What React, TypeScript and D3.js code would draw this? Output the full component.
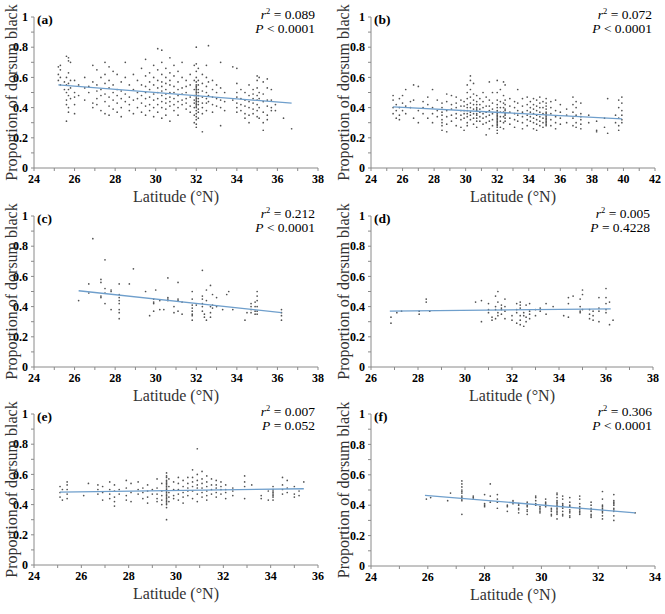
import React from 'react';
import * as d3 from 'd3';

type Site = [number, number[]];

// latitude of a sampling site, proportion of dorsum black of each animal there
const sitesA: Site[] = [
  [25.2, [0.62, 0.58, 0.67]], [25.3, [0.65, 0.55, 0.6, 0.68]], [25.5, [0.57, 0.52]],
  [25.6, [0.74, 0.6, 0.5, 0.45, 0.42, 0.31, 0.55]], [25.7, [0.73, 0.71, 0.63, 0.56, 0.52, 0.48, 0.4, 0.37]],
  [25.8, [0.7, 0.58, 0.53, 0.46]], [26.0, [0.58, 0.5, 0.42, 0.36, 0.47]], [26.2, [0.55, 0.48]],
  [26.5, [0.6, 0.53, 0.45]], [26.7, [0.54, 0.5]], [26.9, [0.68, 0.57, 0.43, 0.4]],
  [27.1, [0.65, 0.55, 0.51, 0.46, 0.42]], [27.3, [0.6, 0.52, 0.48, 0.38]],
  [27.5, [0.7, 0.62, 0.56, 0.49, 0.44, 0.36]], [27.7, [0.67, 0.58, 0.53, 0.47, 0.41, 0.35]],
  [27.9, [0.64, 0.55, 0.5, 0.45, 0.39]], [28.1, [0.62, 0.52, 0.48, 0.43, 0.37]],
  [28.3, [0.57, 0.51, 0.46, 0.4, 0.34]], [28.5, [0.7, 0.6, 0.49, 0.44]], [28.7, [0.55, 0.47, 0.42, 0.38]],
  [28.9, [0.62, 0.52, 0.45, 0.36]], [29.1, [0.58, 0.5, 0.46, 0.4]], [29.3, [0.66, 0.55, 0.48, 0.43, 0.37]],
  [29.5, [0.72, 0.61, 0.54, 0.5, 0.46, 0.41, 0.35]], [29.7, [0.63, 0.57, 0.52, 0.47, 0.42, 0.38]],
  [29.9, [0.68, 0.6, 0.55, 0.49, 0.45, 0.4, 0.34]], [30.1, [0.79, 0.65, 0.58, 0.53, 0.5, 0.46, 0.42, 0.37]],
  [30.3, [0.78, 0.7, 0.62, 0.57, 0.54, 0.51, 0.48, 0.44, 0.4, 0.33]],
  [30.5, [0.66, 0.6, 0.56, 0.52, 0.49, 0.46, 0.43, 0.39, 0.35]],
  [30.7, [0.73, 0.63, 0.58, 0.55, 0.5, 0.47, 0.44, 0.41, 0.31]],
  [30.9, [0.68, 0.61, 0.54, 0.5, 0.46, 0.42, 0.38]], [31.1, [0.64, 0.57, 0.52, 0.48, 0.44, 0.4, 0.35]],
  [31.3, [0.7, 0.6, 0.53, 0.49, 0.45, 0.42]], [31.5, [0.58, 0.54, 0.5, 0.46, 0.43, 0.39]],
  [31.7, [0.62, 0.55, 0.47, 0.41, 0.37]], [31.9, [0.68, 0.58, 0.52, 0.48, 0.45, 0.43, 0.4, 0.35, 0.3]],
  [32.0, [0.8, 0.69, 0.64, 0.6, 0.57, 0.55, 0.54, 0.53, 0.52, 0.51, 0.5, 0.49, 0.48, 0.47, 0.46, 0.45, 0.44, 0.43, 0.42, 0.41, 0.4, 0.38, 0.36, 0.34, 0.32, 0.29, 0.27]],
  [32.1, [0.66, 0.58, 0.55, 0.52, 0.5, 0.48, 0.46, 0.44, 0.42, 0.39, 0.37, 0.33]],
  [32.3, [0.62, 0.56, 0.51, 0.47, 0.43, 0.4, 0.36, 0.24]], [32.5, [0.68, 0.6, 0.54, 0.5, 0.46, 0.43, 0.38]],
  [32.6, [0.81, 0.57, 0.48, 0.44]], [32.8, [0.58, 0.52, 0.47, 0.42, 0.37]], [33.0, [0.55, 0.5, 0.46, 0.41]],
  [33.2, [0.7, 0.53, 0.45, 0.4, 0.28]], [33.4, [0.5, 0.44, 0.38]], [33.8, [0.67, 0.45]],
  [34.0, [0.66, 0.56, 0.5, 0.47, 0.43, 0.4, 0.37]], [34.2, [0.52, 0.46, 0.42, 0.38]],
  [34.4, [0.5, 0.45, 0.41, 0.36, 0.33]], [34.6, [0.55, 0.48, 0.44, 0.4, 0.35, 0.3]],
  [34.8, [0.52, 0.49, 0.46, 0.43, 0.39, 0.36]], [35.0, [0.61, 0.58, 0.53, 0.48, 0.45, 0.42, 0.38, 0.34]],
  [35.1, [0.6, 0.5, 0.46, 0.4, 0.33]], [35.3, [0.57, 0.49, 0.44, 0.37, 0.3, 0.25]],
  [35.5, [0.59, 0.53, 0.45, 0.41, 0.35, 0.32]], [35.7, [0.52, 0.45, 0.4, 0.38]], [35.9, [0.42, 0.38]],
  [36.3, [0.33]], [36.7, [0.26]],
];

const sitesB: Site[] = [
  [25.4, [0.48, 0.45, 0.4, 0.36]], [25.6, [0.42, 0.38, 0.33]], [25.8, [0.46, 0.4, 0.35, 0.32]],
  [26.0, [0.48, 0.43, 0.38]], [26.2, [0.52, 0.41, 0.36]], [26.5, [0.44, 0.4]],
  [26.7, [0.55, 0.45, 0.33]], [27.0, [0.54, 0.38, 0.3]], [27.3, [0.44, 0.4, 0.36]],
  [27.6, [0.47, 0.42, 0.33]], [27.9, [0.52, 0.4, 0.36, 0.3]], [28.2, [0.45, 0.38, 0.34]],
  [28.5, [0.43, 0.4, 0.37, 0.35, 0.32, 0.3, 0.28, 0.25]], [28.8, [0.49, 0.44, 0.38, 0.34, 0.29, 0.24]],
  [29.1, [0.48, 0.42, 0.39, 0.35, 0.31]], [29.4, [0.47, 0.43, 0.4, 0.36, 0.33, 0.28]],
  [29.7, [0.45, 0.41, 0.38, 0.35, 0.32, 0.27]], [29.9, [0.44, 0.41, 0.38, 0.36, 0.33, 0.25]],
  [30.1, [0.55, 0.5, 0.46, 0.42, 0.4, 0.38, 0.36, 0.34, 0.3, 0.28]],
  [30.3, [0.61, 0.58, 0.52, 0.47, 0.43, 0.4, 0.37, 0.35, 0.32]],
  [30.5, [0.56, 0.49, 0.45, 0.42, 0.39, 0.36, 0.33, 0.29]],
  [30.7, [0.48, 0.44, 0.42, 0.4, 0.39, 0.38, 0.36, 0.35, 0.33, 0.31, 0.27]],
  [30.9, [0.46, 0.42, 0.39, 0.37, 0.34, 0.31]], [31.1, [0.5, 0.44, 0.4, 0.36, 0.33, 0.29]],
  [31.3, [0.47, 0.41, 0.37, 0.34, 0.3, 0.22]], [31.5, [0.57, 0.45, 0.41, 0.38, 0.35, 0.31, 0.26]],
  [31.7, [0.5, 0.43, 0.39, 0.36, 0.32, 0.28]],
  [32.0, [0.58, 0.5, 0.45, 0.42, 0.4, 0.38, 0.37, 0.36, 0.35, 0.34, 0.33, 0.32, 0.31, 0.3, 0.29, 0.28, 0.27, 0.25, 0.23]],
  [32.2, [0.52, 0.44, 0.4, 0.37, 0.34, 0.31, 0.27]], [32.4, [0.57, 0.48, 0.43, 0.4, 0.37, 0.34, 0.3, 0.26]],
  [32.5, [0.55, 0.45, 0.42, 0.39, 0.38, 0.36, 0.35, 0.33, 0.31]], [32.8, [0.46, 0.41, 0.37, 0.33, 0.29]],
  [33.1, [0.44, 0.4, 0.36, 0.32, 0.27]], [33.3, [0.52, 0.43, 0.38, 0.35, 0.31]],
  [33.6, [0.46, 0.41, 0.37, 0.34, 0.3, 0.26]], [33.9, [0.47, 0.42, 0.38, 0.35, 0.32, 0.28]],
  [34.1, [0.44, 0.4, 0.37, 0.34, 0.31]], [34.3, [0.46, 0.42, 0.39, 0.36, 0.33, 0.3, 0.26]],
  [34.5, [0.45, 0.41, 0.38, 0.35, 0.32, 0.29, 0.25]], [34.7, [0.47, 0.43, 0.4, 0.37, 0.34, 0.31, 0.28]],
  [34.9, [0.44, 0.4, 0.36, 0.33, 0.3, 0.27]],
  [35.1, [0.46, 0.43, 0.41, 0.39, 0.37, 0.36, 0.35, 0.34, 0.33, 0.32, 0.31, 0.3, 0.29, 0.28]],
  [35.4, [0.44, 0.4, 0.36, 0.32, 0.28]], [35.7, [0.45, 0.38, 0.34, 0.3, 0.26]],
  [36.0, [0.42, 0.37, 0.33, 0.29]], [36.4, [0.39, 0.35, 0.3]], [36.8, [0.47, 0.42, 0.37, 0.33, 0.28]],
  [37.0, [0.44, 0.4, 0.35, 0.3, 0.27]], [37.3, [0.43, 0.36, 0.34, 0.32, 0.29, 0.26]],
  [37.8, [0.35, 0.3]], [38.3, [0.31, 0.25, 0.24]], [38.8, [0.33, 0.27]], [39.0, [0.46, 0.23]],
  [39.5, [0.35, 0.3]], [39.7, [0.45, 0.4, 0.33, 0.28, 0.25]], [39.9, [0.47, 0.43, 0.38, 0.35, 0.32, 0.3]],
];

const sitesC: Site[] = [
  [26.2, [0.44]], [26.7, [0.55, 0.49]], [26.9, [0.85]], [27.3, [0.58, 0.56, 0.47, 0.46]],
  [27.5, [0.71, 0.52, 0.49, 0.42]], [27.8, [0.51, 0.5, 0.38]],
  [28.2, [0.55, 0.48, 0.46, 0.44, 0.42, 0.38, 0.36, 0.32]], [28.7, [0.55]], [28.9, [0.65]],
  [29.5, [0.5]], [29.7, [0.34]], [29.9, [0.45, 0.43, 0.42, 0.37]], [30.0, [0.51]], [30.2, [0.44, 0.38]],
  [30.4, [0.38]], [30.6, [0.59, 0.46, 0.45, 0.44]], [30.9, [0.4, 0.36]], [31.1, [0.56, 0.45, 0.44, 0.37]],
  [31.3, [0.43, 0.35]], [31.8, [0.5, 0.45, 0.41, 0.39, 0.37, 0.35, 0.34, 0.31]], [32.0, [0.41]],
  [32.3, [0.64, 0.47, 0.45, 0.42, 0.4, 0.37]], [32.4, [0.35, 0.33]], [32.5, [0.51, 0.44, 0.31]],
  [32.7, [0.54, 0.4, 0.36, 0.33]], [32.8, [0.48, 0.41, 0.39]], [33.0, [0.46, 0.4]], [33.3, [0.38]],
  [33.5, [0.48]], [33.6, [0.5]], [33.8, [0.38]], [34.4, [0.31]], [34.5, [0.36]],
  [34.7, [0.42, 0.4, 0.38, 0.36]], [34.9, [0.43, 0.4, 0.37, 0.35]], [35.0, [0.5, 0.47, 0.44, 0.4, 0.37, 0.35]],
  [36.2, [0.38, 0.36, 0.34, 0.31]],
];

const sitesD: Site[] = [
  [26.85, [0.33, 0.29]], [27.1, [0.36]], [27.3, [0.37]], [28.05, [0.35, 0.37]], [28.35, [0.45, 0.43]],
  [28.5, [0.37]], [30.45, [0.43]], [30.7, [0.44, 0.3]], [31.0, [0.42, 0.38, 0.36]], [31.15, [0.33, 0.31]],
  [31.3, [0.47, 0.4, 0.38, 0.32]], [31.4, [0.5, 0.43, 0.36, 0.34]], [31.55, [0.41, 0.39, 0.38, 0.35]],
  [31.7, [0.45, 0.4, 0.37, 0.32]], [32.0, [0.34, 0.31]], [32.2, [0.42, 0.38, 0.36, 0.29]],
  [32.35, [0.43, 0.41, 0.39, 0.34, 0.31, 0.28]], [32.5, [0.36, 0.34, 0.27]], [32.6, [0.41, 0.33, 0.3]],
  [32.75, [0.42, 0.37, 0.35, 0.32]], [33.0, [0.38, 0.34]], [33.2, [0.39, 0.37]], [33.45, [0.42, 0.35]],
  [33.75, [0.4]], [34.2, [0.34]], [34.4, [0.46, 0.42, 0.33]], [34.6, [0.47]], [34.9, [0.45, 0.4, 0.37, 0.36]],
  [35.0, [0.51, 0.48, 0.38]], [35.3, [0.38, 0.35, 0.32]], [35.45, [0.37, 0.34, 0.31]],
  [35.7, [0.46, 0.39, 0.37, 0.3]], [36.0, [0.52, 0.46, 0.42, 0.38, 0.36]], [36.15, [0.43, 0.28]], [36.3, [0.31]],
];

const sitesE: Site[] = [
  [25.1, [0.52, 0.48, 0.45]], [25.2, [0.5, 0.43]], [25.4, [0.55, 0.53, 0.5, 0.47, 0.44]], [26.1, [0.46]],
  [26.3, [0.54]], [26.7, [0.53, 0.5, 0.47]], [26.9, [0.52, 0.48, 0.43]],
  [27.2, [0.55, 0.5, 0.47, 0.44]], [27.4, [0.53, 0.49, 0.45, 0.42, 0.39]], [27.6, [0.5, 0.47]],
  [27.9, [0.56, 0.51, 0.46, 0.43]], [28.1, [0.54, 0.48, 0.42]], [28.4, [0.55, 0.5, 0.47]],
  [28.6, [0.51, 0.48, 0.44]], [28.8, [0.53, 0.49, 0.45, 0.41]], [29.0, [0.5, 0.47]],
  [29.2, [0.57, 0.51, 0.47, 0.44, 0.42]], [29.4, [0.54, 0.49, 0.46, 0.43, 0.4]],
  [29.6, [0.61, 0.59, 0.58, 0.56, 0.55, 0.54, 0.53, 0.52, 0.51, 0.5, 0.49, 0.48, 0.47, 0.46, 0.45, 0.44, 0.43, 0.42, 0.41, 0.4, 0.38, 0.3]],
  [29.7, [0.57, 0.52, 0.48, 0.45, 0.42]], [29.9, [0.55, 0.5, 0.46, 0.44]],
  [30.1, [0.58, 0.54, 0.5, 0.47, 0.43]], [30.3, [0.56, 0.52, 0.48, 0.45, 0.41]],
  [30.5, [0.58, 0.54, 0.51, 0.49, 0.46]], [30.7, [0.63, 0.58, 0.55, 0.52, 0.49, 0.44]],
  [30.9, [0.77, 0.6, 0.56, 0.53, 0.51, 0.47, 0.42]], [31.1, [0.62, 0.57, 0.54, 0.51, 0.48, 0.45]],
  [31.3, [0.59, 0.55, 0.52, 0.49, 0.46, 0.43]], [31.5, [0.57, 0.53, 0.5, 0.47]],
  [31.7, [0.56, 0.53, 0.51, 0.48, 0.45]], [31.9, [0.55, 0.52, 0.5, 0.47]],
  [32.1, [0.53, 0.5, 0.48, 0.44]], [32.4, [0.51, 0.49, 0.46]], [32.9, [0.59, 0.55, 0.52, 0.44]],
  [33.2, [0.53]], [33.6, [0.46, 0.44]], [33.9, [0.43, 0.49]],
  [34.1, [0.52, 0.5, 0.49, 0.48, 0.47, 0.46, 0.45, 0.43]], [34.5, [0.58, 0.53, 0.5, 0.47]],
  [34.7, [0.56, 0.51, 0.48]], [35.0, [0.52, 0.47, 0.45]], [35.2, [0.49, 0.46]], [35.4, [0.55]],
];

const sitesF: Site[] = [
  [25.95, [0.44]], [26.1, [0.45]], [26.7, [0.43]], [26.8, [0.48]],
  [27.2, [0.56, 0.54, 0.52, 0.5, 0.49, 0.48, 0.46, 0.45, 0.44, 0.43, 0.34]], [27.6, [0.46, 0.45, 0.44]],
  [28.0, [0.47, 0.41, 0.39, 0.4]], [28.2, [0.54, 0.46, 0.42]], [28.45, [0.47, 0.44, 0.42, 0.38]],
  [28.8, [0.4, 0.39, 0.36]], [29.0, [0.42, 0.41, 0.43]], [29.2, [0.41, 0.4, 0.38, 0.37, 0.35]],
  [29.5, [0.42, 0.4, 0.39, 0.37, 0.36, 0.34]], [29.8, [0.46, 0.45, 0.43, 0.41, 0.4]],
  [29.95, [0.39, 0.38, 0.37, 0.36, 0.35]], [30.15, [0.44, 0.42, 0.41, 0.4, 0.39]],
  [30.35, [0.38, 0.37, 0.36, 0.34, 0.33]],
  [30.55, [0.48, 0.47, 0.45, 0.43, 0.42, 0.41, 0.4, 0.39, 0.38, 0.37, 0.36, 0.35, 0.34, 0.31]],
  [30.75, [0.46, 0.44, 0.41, 0.4, 0.39, 0.38, 0.36, 0.34, 0.33]],
  [31.0, [0.45, 0.42, 0.4, 0.39, 0.37, 0.36, 0.35, 0.33, 0.32]],
  [31.35, [0.46, 0.44, 0.41, 0.39, 0.38, 0.37, 0.36, 0.35, 0.34]],
  [31.75, [0.42, 0.4, 0.38, 0.37, 0.36, 0.34, 0.33, 0.32]],
  [32.15, [0.49, 0.44, 0.4, 0.39, 0.38, 0.37, 0.36, 0.35, 0.33, 0.31]],
  [32.55, [0.47, 0.43, 0.42, 0.41, 0.4, 0.38, 0.37, 0.36, 0.33, 0.3]], [33.3, [0.35]],
];

// fitted lines, end points
const fitA: [number, number][] = [[25.2, 0.55], [36.7, 0.43]];
const fitB: [number, number][] = [[25.4, 0.405], [39.9, 0.325]];
const fitC: [number, number][] = [[26.2, 0.505], [36.2, 0.36]];
const fitD: [number, number][] = [[26.8, 0.37], [36.2, 0.385]];
const fitE: [number, number][] = [[25.1, 0.483], [35.4, 0.505]];
const fitF: [number, number][] = [[25.9, 0.465], [33.3, 0.35]];

const yTicks = [0, 0.2, 0.4, 0.6, 0.8, 1];

const serif = { fontFamily: "'Liberation Serif', 'Times New Roman', 'DejaVu Serif', serif" };

type PanelProps = {
  left: number; right: number; top: number; bottom: number; titleX: number;
  xDomain: [number, number]; sites: Site[]; fit: [number, number][];
  letter: string; r2: string; p: string;
};

const Panel = ({ left, right, top, bottom, titleX, xDomain, sites, fit, letter, r2, p }: PanelProps) => {
  const x = d3.scaleLinear().domain(xDomain).range([left, right]);
  const y = d3.scaleLinear().domain([0, 1]).range([bottom, top]);
  const xMajor = d3.range(xDomain[0], xDomain[1] + 0.01, 2);
  const xMinor = d3.range(xDomain[0], xDomain[1] + 0.01, 1);
  const yMinor = d3.range(0, 1.001, 0.1);
  const points = sites.flatMap(([lat, vals]) => vals.map(v => [lat, v]));
  const line = d3.line<[number, number]>().x(d => x(d[0])).y(d => y(d[1]));
  const axisCol = '#8a8a8a';

  return (
    <g style={serif}>
      <line x1={left} x2={left} y1={top} y2={bottom} stroke={axisCol} />
      <line x1={left} x2={right} y1={bottom} y2={bottom} stroke={axisCol} />
      {yMinor.map(t => (
        <line key={'ym' + t} x1={left - 3} x2={left} y1={y(t)} y2={y(t)} stroke={axisCol} />
      ))}
      {xMinor.map(t => (
        <line key={'xm' + t} x1={x(t)} x2={x(t)} y1={bottom} y2={bottom + 3} stroke={axisCol} />
      ))}
      {yTicks.map(t => (
        <text key={'yt' + t} x={left - 6} y={y(t)} dy="0.35em" textAnchor="end"
          fontWeight="bold" fontSize={12}>{t === 0 || t === 1 ? t : t.toFixed(1)}</text>
      ))}
      {xMajor.map(t => (
        <text key={'xt' + t} x={x(t)} y={bottom + 15} textAnchor="middle"
          fontWeight="bold" fontSize={12}>{t}</text>
      ))}
      <text x={(left + right) / 2} y={bottom + 34} textAnchor="middle"
        fontSize={16} fill="#333">Latitude (°N)</text>
      <text transform={`translate(${titleX},${(top + bottom) / 2}) rotate(-90)`} textAnchor="middle"
        fontSize={16} fill="#333">Proportion of dorsum black</text>
      <text x={left + 3} y={top + 7} fontWeight="bold" fontSize={13.5}>({letter})</text>
      <text x={right - 3} y={top + 2} textAnchor="end" fontSize={13.5}>
        <tspan fontStyle="italic">r</tspan><tspan dy={-5} fontSize={8.5}>2</tspan><tspan dy={5}> = {r2}</tspan>
      </text>
      <text x={right - 3} y={top + 16} textAnchor="end" fontSize={13.5}>
        <tspan fontStyle="italic">P</tspan> {p}
      </text>
      {points.map((d, i) => (
        <circle key={i} cx={x(d[0])} cy={y(d[1])} r={0.85} fill="#333" opacity={0.85} />
      ))}
      <path d={line(fit) ?? ''} stroke="#6f9fcc" strokeWidth={1.3} fill="none" />
    </g>
  );
};

export default function App() {
  return (
    <svg width={665} height={614} style={{ position: 'absolute', left: 0, top: 0, background: 'white' }}>
      <Panel left={34} right={318} top={17} bottom={168} titleX={17} xDomain={[24, 38]} sites={sitesA} fit={fitA}
        letter="a" r2="0.089" p="< 0.0001" />
      <Panel left={371} right={655} top={17} bottom={168} titleX={349} xDomain={[24, 42]} sites={sitesB} fit={fitB}
        letter="b" r2="0.072" p="< 0.0001" />
      <Panel left={34} right={318} top={216} bottom={367} titleX={17} xDomain={[24, 38]} sites={sitesC} fit={fitC}
        letter="c" r2="0.212" p="< 0.0001" />
      <Panel left={371} right={653} top={216} bottom={367} titleX={349} xDomain={[26, 38]} sites={sitesD} fit={fitD}
        letter="d" r2="0.005" p="= 0.4228" />
      <Panel left={34} right={318} top={414} bottom={565} titleX={17} xDomain={[24, 36]} sites={sitesE} fit={fitE}
        letter="e" r2="0.007" p="= 0.052" />
      <Panel left={371} right={655} top={414} bottom={566} titleX={349} xDomain={[24, 34]} sites={sitesF} fit={fitF}
        letter="f" r2="0.306" p="< 0.0001" />
    </svg>
  );
}
